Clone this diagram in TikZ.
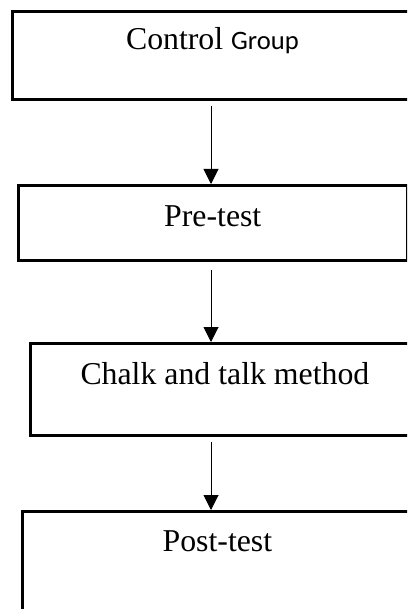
\documentclass[tikz,border=0pt]{standalone}
\usepackage{fontspec}
\setmainfont{Liberation Serif}
\newfontfamily\grpfont{Carlito}
\usetikzlibrary{arrows.meta}

\begin{document}
\begin{tikzpicture}[x=0.5pt,y=-0.5pt,
    stage/.style={draw=black,line width=1.4pt,inner sep=0pt,anchor=north west,
      font=\fontsize{15.9}{18}\selectfont},
    flow/.style={-{Triangle[length=7.5pt,width=7.5pt]},line width=0.5pt}]
  \useasboundingbox (0,0) rectangle (407,609);
  \clip (0,0) rectangle (407,609);
  \coordinate (axis) at (211,0);
  % the four stages
  \node [stage,minimum width=200pt,text height=19pt,text depth=25pt]     (ctrl)  at (11,10)  {Control {\grpfont\fontsize{13.3}{16}\selectfont Group}};
  \node [stage,minimum width=194.35pt,text height=20.5pt,text depth=17pt] (pre)   at (17,184) {Pre-test};
  \node [stage,minimum width=194.5pt,text height=20.5pt,text depth=25.5pt] (chalk) at (29,342) {Chalk and talk method};
  \node [stage,minimum width=195pt,text height=20pt,text depth=35pt]     (post)  at (21,510) {Post-test};
  % arrows
  \draw [flow,shorten <=2.5pt] (ctrl.south -| axis)  -- (pre.north -| axis);
  \draw [flow,shorten <=4pt]   (pre.south -| axis)   -- (chalk.north -| axis);
  \draw [flow,shorten <=2.5pt] (chalk.south -| axis) -- (post.north -| axis);
\end{tikzpicture}
\end{document}
